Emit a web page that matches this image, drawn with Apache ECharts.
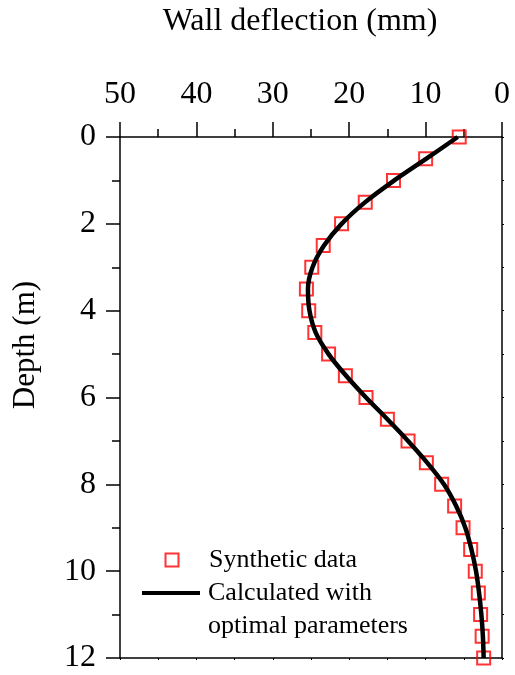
<!DOCTYPE html>
<html>
<head>
<meta charset="utf-8">
<script src="https://cdn.jsdelivr.net/npm/echarts@6/dist/echarts.min.js"></script>
<style>html,body{margin:0;padding:0;background:#fff}#c{width:515px;height:675px}</style>
</head>
<body>
<div id="c"></div>
<script>
// Depths (m)
var depths = [0,0.5,1,1.5,2,2.5,3,3.5,4,4.5,5,5.5,6,6.5,7,7.5,8,8.5,9,9.5,10,10.5,11,11.5,12];
// Synthetic data: wall deflection (mm)
var synthetic = [5.6,10.0,14.2,17.9,21.0,23.4,24.9,25.6,25.3,24.5,22.7,20.5,17.8,15.0,12.3,9.9,7.9,6.2,5.1,4.1,3.5,3.1,2.8,2.6,2.4];
// Calculated with optimal parameters (mm)
var calculated = [5.8,9.9,14.1,17.9,21.0,23.3,24.8,25.4,25.2,24.4,22.7,20.4,17.8,15.0,12.3,9.8,7.6,6.0,4.8,4.0,3.4,3.0,2.7,2.5,2.4];
var xTicks = [0,10,20,30,40,50];
var yTicks = [0,2,4,6,8,10,12];

var FONT = '"Liberation Serif", "Times New Roman", serif';
var chart = echarts.init(document.getElementById('c'), null, {renderer: 'canvas'});

function pairs(vals) { return vals.map(function (v, i) { return [v, depths[i]]; }); }

var axisLineStyle = {color: '#000', width: 1.5};

chart.setOption({
  animation: false,
  backgroundColor: '#fff',
  grid: {left: 120, right: 13, top: 137, bottom: 17, containLabel: false},
  graphic: [
    {type: 'text', x: 300, y: 22, style: {text: 'Wall deflection (mm)', font: '32px ' + FONT, fill: '#000', align: 'center', verticalAlign: 'middle'}},
    {type: 'text', x: 26, y: 345, rotation: Math.PI / 2, style: {text: 'Depth (m)', font: '31px ' + FONT, fill: '#000', align: 'center', verticalAlign: 'middle'}}
  ],
  xAxis: [
    {
      type: 'value', position: 'top', inverse: true,
      min: xTicks[0], max: xTicks[xTicks.length - 1], interval: 10,
      axisLine: {show: true, lineStyle: axisLineStyle},
      axisTick: {show: true, inside: false, length: 15, lineStyle: axisLineStyle},
      minorTick: {show: true, splitNumber: 2, length: 8, lineStyle: axisLineStyle},
      splitLine: {show: false},
      axisLabel: {show: true, margin: 26, color: '#000', fontSize: 32, fontFamily: FONT}
    },
    {
      type: 'value', position: 'bottom', inverse: true,
      min: xTicks[0], max: xTicks[xTicks.length - 1], interval: 10,
      axisLine: {show: true, onZero: false, lineStyle: axisLineStyle},
      axisTick: {show: true, length: 2, lineStyle: {color: '#000', width: 1}},
      minorTick: {show: true, splitNumber: 2, length: 2, lineStyle: {color: '#000', width: 1}},
      splitLine: {show: false},
      axisLabel: {show: false}
    }
  ],
  yAxis: [
    {
      type: 'value', position: 'left', inverse: true,
      min: yTicks[0], max: yTicks[yTicks.length - 1], interval: 2,
      axisLine: {show: true, onZero: false, lineStyle: axisLineStyle},
      axisTick: {show: true, inside: false, length: 14, lineStyle: axisLineStyle},
      minorTick: {show: true, splitNumber: 2, length: 8, lineStyle: axisLineStyle},
      splitLine: {show: false},
      axisLabel: {show: true, margin: 24, color: '#000', fontSize: 32, fontFamily: FONT}
    },
    {
      type: 'value', position: 'right', inverse: true,
      min: yTicks[0], max: yTicks[yTicks.length - 1], interval: 2,
      axisLine: {show: true, onZero: false, lineStyle: axisLineStyle},
      axisTick: {show: true, length: 2, lineStyle: {color: '#000', width: 1}},
      minorTick: {show: true, splitNumber: 2, length: 2, lineStyle: {color: '#000', width: 1}},
      splitLine: {show: false},
      axisLabel: {show: false}
    }
  ],
  legend: [
    {
      data: [{name: 'Synthetic data', icon: 'rect'}],
      orient: 'vertical', left: 164.5, top: 543.5, padding: 0,
      itemWidth: 13, itemHeight: 13, selectedMode: false,
      itemStyle: {color: 'rgba(0,0,0,0)', borderColor: '#ff0000', borderWidth: 2},
      textStyle: {color: '#000', fontSize: 26, fontFamily: FONT, lineHeight: 33, padding: [0, 0, 0, 25.5]}
    },
    {
      data: [{name: 'Calculated with\noptimal parameters', icon: 'rect'}],
      orient: 'vertical', left: 142, top: 543.5, padding: 0,
      itemWidth: 58, itemHeight: 4, selectedMode: false,
      itemStyle: {color: '#000', borderWidth: 0},
      formatter: function (name) { return '\n' + name; },
      textStyle: {color: '#000', fontSize: 26, fontFamily: FONT, lineHeight: 33, padding: [0, 0, 0, 3]}
    }
  ],
  series: [
    {
      name: 'Synthetic data', type: 'scatter', xAxisIndex: 0, yAxisIndex: 0,
      symbol: 'rect', symbolSize: 13,
      itemStyle: {color: 'rgba(0,0,0,0)', borderColor: '#ff0000', borderWidth: 2},
      data: pairs(synthetic)
    },
    {
      name: 'Calculated with\noptimal parameters', type: 'line', xAxisIndex: 0, yAxisIndex: 0,
      smooth: 0.35, showSymbol: false, symbol: 'none',
      itemStyle: {color: '#000'},
      lineStyle: {color: '#000', width: 4.5},
      data: pairs(calculated)
    }
  ]
});
</script>
</body>
</html>
